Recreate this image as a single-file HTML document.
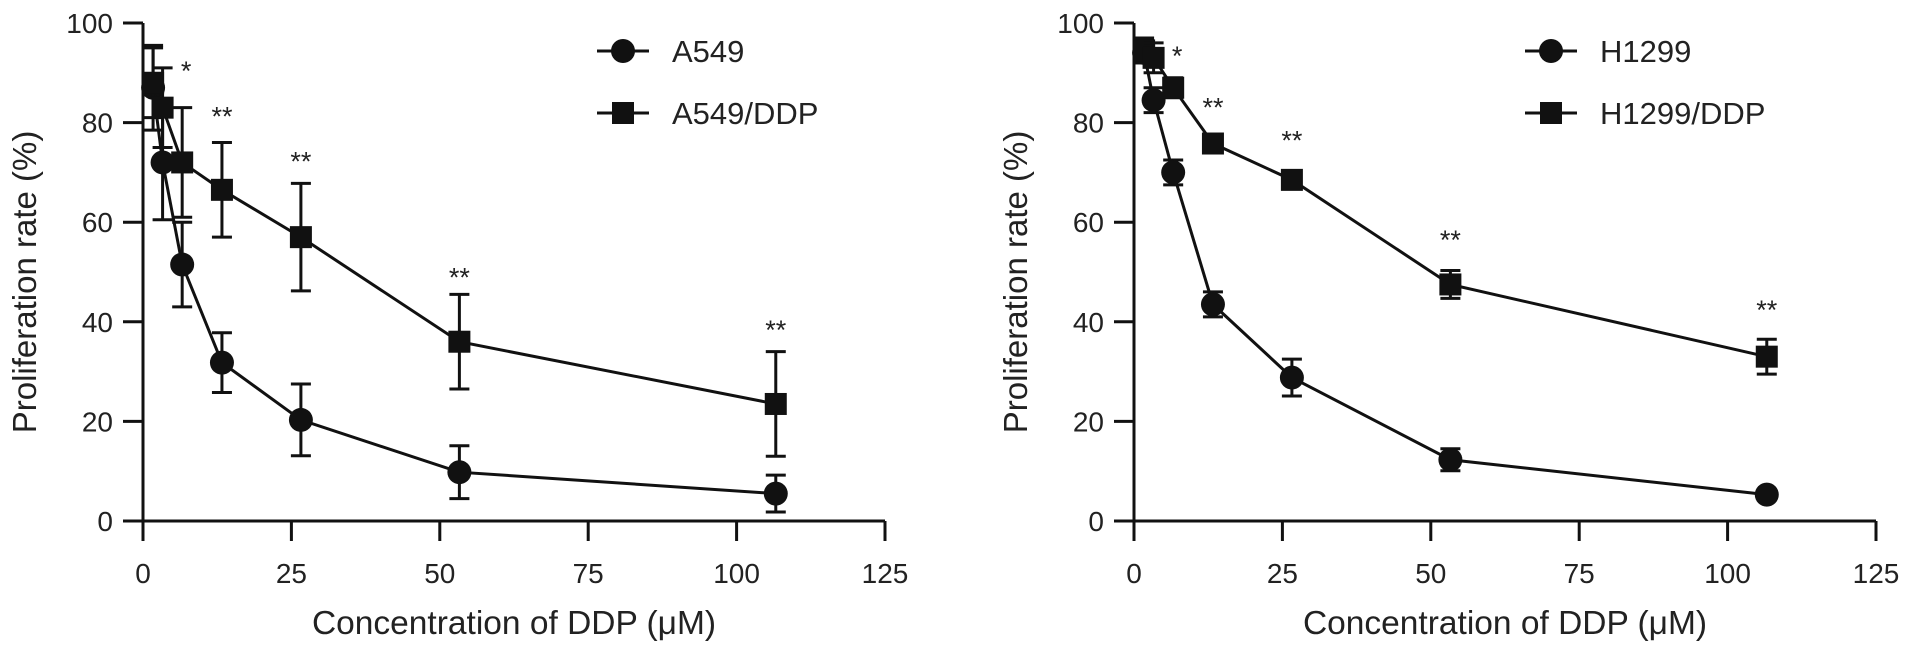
<!DOCTYPE html>
<html><head><meta charset="utf-8"><style>
html,body{margin:0;padding:0;background:#fff;}
svg{display:block;font-family:"Liberation Sans",Arial,sans-serif;}
</style></head><body>
<svg id="fig" width="1913" height="656" viewBox="0 0 1913 656" xmlns="http://www.w3.org/2000/svg"></svg>
<script>
const xTicks = [0,25,50,75,100,125];
const yTicks = [0,20,40,60,80,100];
const conc = [1.7,3.3,6.6,13.3,26.6,53.3,106.6];
const a549 = [87,72,51.5,31.8,20.3,9.8,5.5];
const a549Err = [8.5,11.5,8.5,6,7.2,5.3,3.7];
const a549ddp = [88,83,72,66.5,57,36,23.5];
const a549ddpErr = [7,8,11,9.5,10.8,9.5,10.5];
const a549Stars = ['', '', '*','**','**','**','**'];
const a549StarY = [0,0,91,81.8,72.8,49.5,39];
const h1299 = [94,84.5,70,43.5,28.8,12.3,5.3];
const h1299Err = [2,2.5,2.5,2.5,3.7,2.2,0.5];
const h1299ddp = [94.5,93,87,75.8,68.5,47.5,33];
const h1299ddpErr = [2.5,3,2,1.8,1.5,2.8,3.5];
const h1299Stars = ['', '', '*','**','**','**','**'];
const h1299StarY = [0,0,94,83.6,77,57,43];

const NS='http://www.w3.org/2000/svg';
const svg=document.getElementById('fig');
function el(tag,attrs,parent){const e=document.createElementNS(NS,tag);for(const k in attrs)e.setAttribute(k,attrs[k]);(parent||svg).appendChild(e);return e;}

function panel(x0, name, s1, e1, s2, e2, stars, starY, l1, l2, legX){
  const g=el('g',{});
  
  
  const X=v=>x0+v*742/125;
  const Y=v=>521-v*4.98;
  const ax=el('g',{stroke:'#111','stroke-width':3,fill:'none'},g);
  
  
  el('line',{x1:X(0),y1:Y(0),x2:X(125),y2:Y(0)},ax);
  el('line',{x1:X(0),y1:Y(0),x2:X(0),y2:Y(100)},ax);
  xTicks.forEach(t=>{
    el('line',{x1:X(t),y1:Y(0),x2:X(t),y2:Y(0)+20},ax);
    const tx=el('text',{x:X(t),y:583,'font-size':28,'text-anchor':'middle',fill:'#222'},g);
    tx.textContent=t;
    
    
  });
  yTicks.forEach(t=>{
    el('line',{x1:X(0)-20,y1:Y(t),x2:X(0),y2:Y(t)},ax);
    const tx=el('text',{x:X(0)-30,y:Y(t)+10,'font-size':28,'text-anchor':'end',fill:'#222'},g);
    tx.textContent=t;
    
    
  });
  const xt=el('text',{x:X(62.5),y:634,'font-size':33.5,'text-anchor':'middle',fill:'#222'},g);
  xt.textContent='Concentration of DDP (\u03bcM)';
  
  
  const yt=el('text',{x:0,y:0,'font-size':33,'text-anchor':'middle',fill:'#222',transform:`translate(${x0-107},${Y(48)}) rotate(-90)`},g);
  yt.textContent='Proliferation rate (%)';
  
  
  function series(vals,errs,sq,sname){
    const sg=el('g',{},g);
    
    
    el('polyline',{points:vals.map((v,i)=>X(conc[i])+','+Y(v)).join(' '),fill:'none',stroke:'#111','stroke-width':3},sg);
    vals.forEach((v,i)=>{
      const cx=X(conc[i]);
      el('line',{x1:cx,y1:Y(v-errs[i]),x2:cx,y2:Y(v+errs[i]),stroke:'#111','stroke-width':3},sg);
      el('line',{x1:cx-10,y1:Y(v-errs[i]),x2:cx+10,y2:Y(v-errs[i]),stroke:'#111','stroke-width':3},sg);
      el('line',{x1:cx-10,y1:Y(v+errs[i]),x2:cx+10,y2:Y(v+errs[i]),stroke:'#111','stroke-width':3},sg);
      let m;
      if(sq) m=el('rect',{x:cx-11,y:Y(v)-11,width:22,height:22,fill:'#111'},sg);
      else m=el('circle',{cx:cx,cy:Y(v),r:12,fill:'#111'},sg);
      
      
    });
  }
  series(s1,e1,false,l1.toLowerCase());
  series(s2,e2,true,l2.toLowerCase().replace('/','-'));
  stars.forEach((s,i)=>{
    if(!s) return;
    const t=el('text',{x:X(conc[i])+(i==2?4:0),y:Y(starY[i])+12,'font-size':27,'text-anchor':'middle',fill:'#222'},g);
    t.textContent=s;
    
    
  });
  [[l1,false,51],[l2,true,113]].forEach(([lab,sq,y])=>{
    const lg=el('g',{},g);
    
    
    el('line',{x1:legX,y1:y,x2:legX+52,y2:y,stroke:'#111','stroke-width':3},lg);
    if(sq) el('rect',{x:legX+15,y:y-11,width:22,height:22,fill:'#111'},lg);
    else el('circle',{cx:legX+26,cy:y,r:12,fill:'#111'},lg);
    const t=el('text',{x:legX+75,y:y+11,'font-size':31,fill:'#222'},lg);
    t.textContent=lab;
  });
}
panel(143,'a549',a549,a549Err,a549ddp,a549ddpErr,a549Stars,a549StarY,'A549','A549/DDP',597);
panel(1134,'h1299',h1299,h1299Err,h1299ddp,h1299ddpErr,h1299Stars,h1299StarY,'H1299','H1299/DDP',1525);
</script>
</body></html>
